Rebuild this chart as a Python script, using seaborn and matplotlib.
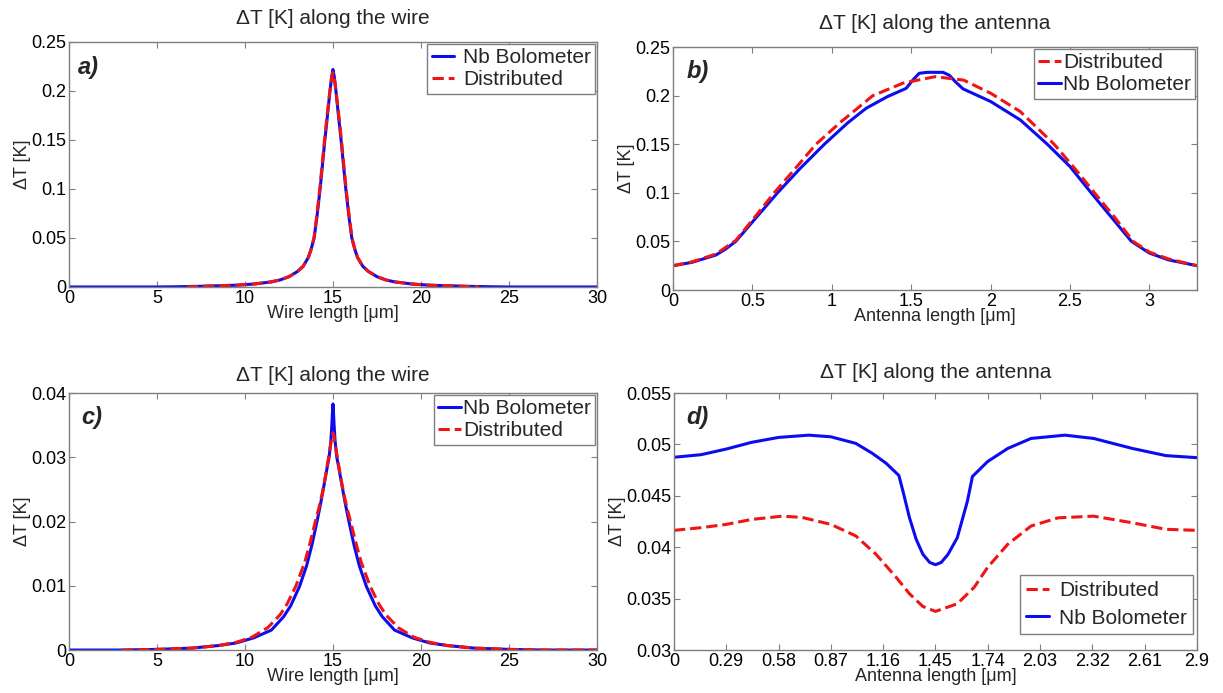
import numpy as np
import pandas as pd
import matplotlib
matplotlib.use("Agg")
import matplotlib.pyplot as plt
from matplotlib.ticker import FuncFormatter
import seaborn as sns

# ---------------- data ----------------
# panel a: wire, large
a_nb_x = [0, 5, 6, 7.5, 9.5, 10.5, 11.5, 12, 12.5, 13, 13.3, 13.6, 13.75, 13.93, 14.1, 14.27, 14.4, 14.54, 14.7, 14.83, 14.92, 15,
          15.08, 15.17, 15.3, 15.46, 15.6, 15.73, 15.9, 16.07, 16.25, 16.4, 16.7, 17, 17.5, 18, 18.5, 19.5, 20.5, 22.5, 24, 25, 30]
a_nb_y = [0, 0, 0.0002, 0.0007, 0.0018, 0.003, 0.0052, 0.0072, 0.0105, 0.016, 0.021, 0.03, 0.038, 0.05, 0.073, 0.1, 0.124, 0.15, 0.177, 0.2, 0.214, 0.222,
          0.214, 0.2, 0.177, 0.15, 0.124, 0.1, 0.073, 0.05, 0.038, 0.03, 0.021, 0.016, 0.0105, 0.0072, 0.0052, 0.003, 0.0018, 0.0007, 0.0002, 0, 0]
a_di_x = [6.7, 7.5, 9.5, 10.5, 11.5, 12, 12.5, 13, 13.3, 13.6, 13.75, 13.92, 14.08, 14.25, 14.38, 14.52, 14.68, 14.82, 14.92, 15,
          15.08, 15.18, 15.32, 15.48, 15.62, 15.75, 15.92, 16.08, 16.25, 16.4, 16.7, 17, 17.5, 18, 18.5, 19.5, 20.5, 22.5, 23.3]
a_di_y = [0, 0.0007, 0.0018, 0.003, 0.0052, 0.0072, 0.0105, 0.016, 0.021, 0.03, 0.038, 0.05, 0.073, 0.1, 0.124, 0.15, 0.177, 0.199, 0.212, 0.219,
          0.212, 0.199, 0.177, 0.15, 0.124, 0.1, 0.073, 0.05, 0.038, 0.03, 0.021, 0.016, 0.0105, 0.0072, 0.0052, 0.003, 0.0018, 0.0007, 0]

# panel b: antenna, large
b_di_x = [0, 0.12, 0.27, 0.395, 0.5, 0.637, 0.77, 0.9, 1.05, 1.258, 1.45, 1.65, 1.83, 2.0, 2.187, 2.4, 2.53, 2.654, 2.78, 2.898, 3.0, 3.12, 3.3]
b_di_y = [0.025, 0.029, 0.037, 0.051, 0.072, 0.1, 0.125, 0.15, 0.172, 0.2, 0.213, 0.2195, 0.216, 0.2025, 0.1836, 0.15, 0.125, 0.1, 0.075, 0.05, 0.039, 0.032, 0.025]
b_nb_x = [0, 0.12, 0.27, 0.33, 0.395, 0.5, 0.658, 0.8, 0.953, 1.1, 1.216, 1.35, 1.468, 1.51, 1.55, 1.6, 1.65, 1.7, 1.74, 1.78, 1.826,
          2.0, 2.187, 2.357, 2.5, 2.633, 2.76, 2.887, 3.0, 3.12, 3.3]
b_nb_y = [0.025, 0.0285, 0.036, 0.042, 0.05, 0.07, 0.1, 0.125, 0.15, 0.172, 0.187, 0.199, 0.2075, 0.216, 0.223, 0.224, 0.224, 0.224, 0.221, 0.214, 0.207,
          0.194, 0.175, 0.15, 0.127, 0.1, 0.075, 0.05, 0.038, 0.031, 0.025]

# panel c: wire, small
c_nb_x = [0, 3, 5, 7, 8.5, 9.5, 10.5, 11.5, 12.2, 12.6, 13.1, 13.5, 13.8, 14.1, 14.3, 14.5, 14.65, 14.78, 14.88, 14.94, 14.98, 15,
          15.02, 15.06, 15.12, 15.22, 15.35, 15.5, 15.7, 15.9, 16.2, 16.5, 16.9, 17.4, 17.8, 18.5, 19.5, 20.5, 21.5, 23, 25, 27, 30]
c_nb_y = [0, 0, 0.0001, 0.0003, 0.0007, 0.0011, 0.0019, 0.0031, 0.0052, 0.0069, 0.0099, 0.0131, 0.0163, 0.0201, 0.0228, 0.0258, 0.0281, 0.030, 0.0325, 0.0352, 0.0375, 0.0383,
          0.0375, 0.0352, 0.0325, 0.030, 0.0281, 0.0258, 0.0228, 0.0201, 0.0163, 0.0131, 0.0099, 0.0069, 0.0052, 0.0031, 0.0019, 0.0011, 0.0007, 0.0003, 0.0001, 0, 0]
c_di_x = [3, 5, 7, 8.5, 9.5, 10.4, 11.3, 12, 12.4, 12.9, 13.4, 13.7, 14.0, 14.2, 14.4, 14.6, 14.75, 14.86, 14.94, 15,
          15.06, 15.14, 15.25, 15.4, 15.6, 15.8, 16.0, 16.3, 16.6, 17.1, 17.6, 18.0, 18.7, 19.6, 20.5, 21.5, 23, 25, 27, 30]
c_di_y = [0, 0.0001, 0.0003, 0.0007, 0.0012, 0.002, 0.0035, 0.0055, 0.0072, 0.010, 0.0137, 0.0167, 0.020, 0.0221, 0.0245, 0.0275, 0.030, 0.0318, 0.0333, 0.0338,
          0.0333, 0.0318, 0.030, 0.0275, 0.0245, 0.0221, 0.020, 0.0167, 0.0137, 0.010, 0.0072, 0.0055, 0.0035, 0.002, 0.0012, 0.0007, 0.0003, 0.0001, 0, 0]

# panel d: antenna, small
d_di_x = [0, 0.15, 0.29, 0.43, 0.6, 0.71, 0.87, 1.008, 1.12, 1.232, 1.306, 1.38, 1.45, 1.571, 1.665, 1.739, 1.851, 1.98, 2.13, 2.327, 2.541, 2.728, 2.9]
d_di_y = [0.04164, 0.0419, 0.04222, 0.0427, 0.04302, 0.0429, 0.04222, 0.0411, 0.03932, 0.03707, 0.03547, 0.03424, 0.03376, 0.0345, 0.03611, 0.03804, 0.04029, 0.04206, 0.04286, 0.04302, 0.04238, 0.04174, 0.04164]
d_nb_x = [0, 0.15, 0.29, 0.43, 0.58, 0.747, 0.87, 1.008, 1.10, 1.176, 1.247, 1.27, 1.306, 1.343, 1.38, 1.418, 1.45,
          1.482, 1.52, 1.571, 1.627, 1.655, 1.739, 1.851, 1.98, 2.168, 2.327, 2.541, 2.728, 2.9]
d_nb_y = [0.04875, 0.0490, 0.04955, 0.0502, 0.05068, 0.0509, 0.05074, 0.0501, 0.04913, 0.04817, 0.04698, 0.04543, 0.04286, 0.04077, 0.03932, 0.03852, 0.0383,
          0.03852, 0.03932, 0.04093, 0.04447, 0.04688, 0.04833, 0.04961, 0.05058, 0.0509, 0.05058, 0.04961, 0.04891, 0.04871]

# ---------------- style ----------------
sns.set_theme(style="white")
plt.rcParams['font.family'] = ['Liberation Sans', 'DejaVu Sans']
plt.rcParams['axes.edgecolor'] = '#7f7f7f'
plt.rcParams['axes.linewidth'] = 1.0

BLUE = '#0c0cf0'
RED = '#f01414'
LW = 2.2

fig = plt.figure(figsize=(12.23, 6.93), dpi=100)

positions = {
    'a': [0.0564, 0.5859, 0.4317, 0.3535],
    'b': [0.5503, 0.5815, 0.4285, 0.3506],
    'c': [0.0564, 0.0620, 0.4317, 0.3709],
    'd': [0.5511, 0.0620, 0.4276, 0.3709],
}

fmt = FuncFormatter(lambda v, p: ('%g' % round(v, 6)))


def style_ax(ax, xlim, ylim, xticks, yticks, xlabel, title, tag, tagpos, tpad, ylx):
    ax.set_xlim(*xlim)
    ax.set_ylim(*ylim)
    ax.set_xticks(xticks)
    ax.set_yticks(yticks)
    ax.xaxis.set_major_formatter(fmt)
    ax.yaxis.set_major_formatter(fmt)
    ax.tick_params(direction='in', length=4, width=0.8, color='#7f7f7f',
                   top=True, right=True, bottom=True, left=True,
                   labelsize=13, pad=2, labelcolor='black')
    for s in ax.spines.values():
        s.set_visible(True)
        s.set_color('#7f7f7f')
    ax.set_xlabel(xlabel, fontsize=13, labelpad=-1)
    ax.set_ylabel('ΔT [K]', fontsize=13)
    ax.yaxis.set_label_coords(ylx, 0.5)
    ax.set_title(title, fontsize=15, pad=tpad)
    ax.text(tagpos[0], tagpos[1], tag, transform=ax.transAxes, fontsize=17,
            fontweight='bold', fontstyle='italic', ha='left', va='center')
    ax.grid(False)


def line(ax, x, y, color, ls, label):
    df = pd.DataFrame({'x': x, 'y': y})
    sns.lineplot(data=df, x='x', y='y', color=color, linestyle=ls, linewidth=LW,
                 ax=ax, label=label, estimator=None, sort=False)


def legend(ax, loc, order, tpad, anchor=None, spacing=0.15, bpad=0.2):
    h, l = ax.get_legend_handles_labels()
    d = dict(zip(l, h))
    kw = {}
    if anchor is not None:
        kw['bbox_to_anchor'] = anchor
    leg = ax.legend([d[k] for k in order], order, loc=loc, fontsize=15,
                    frameon=True, fancybox=False, framealpha=1,
                    edgecolor='#7f7f7f', handlelength=1.1, handletextpad=tpad,
                    borderpad=bpad, labelspacing=spacing, borderaxespad=0.1, **kw)
    leg.get_frame().set_linewidth(1.0)


# a
ax = fig.add_axes(positions['a'])
line(ax, a_nb_x, a_nb_y, BLUE, '-', 'Nb Bolometer')
line(ax, a_di_x, a_di_y, RED, '--', 'Distributed')
style_ax(ax, (0, 30), (0, 0.25), [0, 5, 10, 15, 20, 25, 30],
         [0, 0.05, 0.1, 0.15, 0.2, 0.25], 'Wire length [μm]',
         'ΔT [K] along the wire', 'a)', (0.016, 0.895), 13, -0.071)
legend(ax, 'upper right', ['Nb Bolometer', 'Distributed'], 0.4)

# b
ax = fig.add_axes(positions['b'])
line(ax, b_nb_x, b_nb_y, BLUE, '-', 'Nb Bolometer')
line(ax, b_di_x, b_di_y, RED, '--', 'Distributed')
style_ax(ax, (0, 3.3), (0, 0.25), [0, 0.5, 1, 1.5, 2, 2.5, 3],
         [0, 0.05, 0.1, 0.15, 0.2, 0.25], 'Antenna length [μm]',
         'ΔT [K] along the antenna', 'b)', (0.026, 0.90), 13, -0.073)
legend(ax, 'upper right', ['Distributed', 'Nb Bolometer'], 0.1)

# c
ax = fig.add_axes(positions['c'])
line(ax, c_nb_x, c_nb_y, BLUE, '-', 'Nb Bolometer')
line(ax, c_di_x, c_di_y, RED, '--', 'Distributed')
style_ax(ax, (0, 30), (0, 0.04), [0, 5, 10, 15, 20, 25, 30],
         [0, 0.01, 0.02, 0.03, 0.04], 'Wire length [μm]',
         'ΔT [K] along the wire', 'c)', (0.024, 0.905), 9, -0.071)
legend(ax, 'upper right', ['Nb Bolometer', 'Distributed'], 0.1)

# d
ax = fig.add_axes(positions['d'])
line(ax, d_nb_x, d_nb_y, BLUE, '-', 'Nb Bolometer')
line(ax, d_di_x, d_di_y, RED, '--', 'Distributed')
style_ax(ax, (0, 2.9), (0.03, 0.055),
         [0, 0.29, 0.58, 0.87, 1.16, 1.45, 1.74, 2.03, 2.32, 2.61, 2.9],
         [0.03, 0.035, 0.04, 0.045, 0.05, 0.055], 'Antenna length [μm]',
         'ΔT [K] along the antenna', 'd)', (0.024, 0.905), 11, -0.091)
legend(ax, 'lower right', ['Distributed', 'Nb Bolometer'], 0.5,
       anchor=(0.997, 0.055), spacing=0.4, bpad=0.3)

fig.savefig('out.png', dpi=100)
